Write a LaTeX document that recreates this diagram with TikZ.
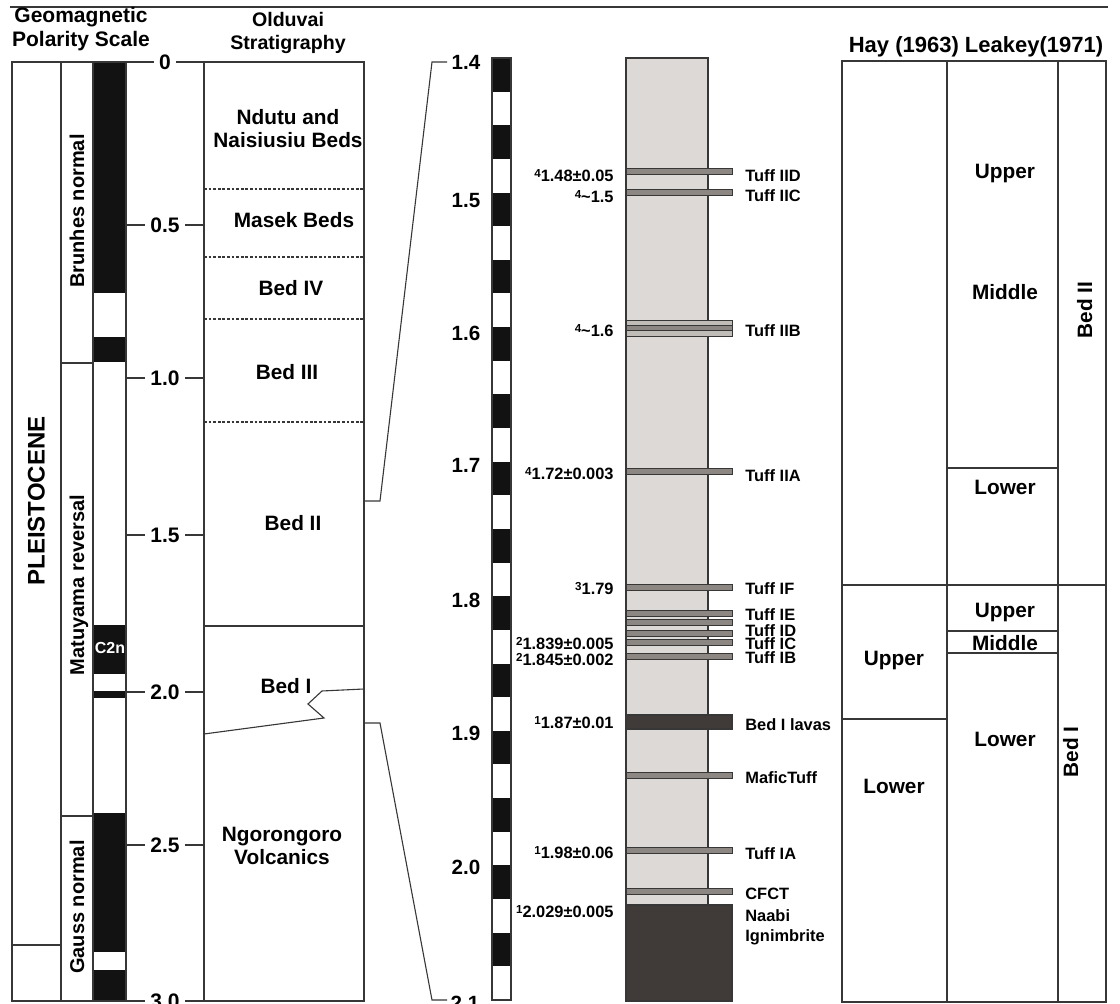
\documentclass[tikz,border=0pt]{standalone}
\usepackage{fontspec}
\setmainfont{Liberation Sans}
\definecolor{colgray}{RGB}{220,217,214}
\definecolor{tuffgray}{RGB}{140,135,131}
\definecolor{tufflight}{RGB}{192,188,184}
\definecolor{darkrock}{RGB}{64,59,56}
\definecolor{edge}{RGB}{55,55,55}
\definecolor{polblack}{RGB}{18,18,18}
\newcommand{\supn}[1]{\raisebox{0.55ex}{\fontsize{5.8}{6}\selectfont #1}}
\begin{document}
\begin{tikzpicture}[x=0.5pt,y=-0.5pt,
  ln/.style={draw=edge, line width=0.55pt},
  hdr/.style={font=\bfseries\fontsize{10.5}{12.2}\selectfont, inner sep=0pt, align=center},
  hdrone/.style={font=\bfseries\fontsize{11}{12}\selectfont, inner sep=0pt, text height=7.9pt, text depth=0pt},
  lbl/.style={font=\bfseries\fontsize{10.4}{11.5}\selectfont, inner sep=0pt, text height=7.5pt, text depth=0pt},
  mlbl/.style={font=\bfseries\fontsize{10.4}{11.5}\selectfont, inner sep=0pt, align=center},
  rlbl/.style={font=\bfseries\fontsize{10}{11}\selectfont, inner sep=0pt, text height=7.2pt, text depth=0pt, rotate=90},
  tick/.style={font=\bfseries\fontsize{10.5}{12}\selectfont, fill=white, inner xsep=2.5pt, inner ysep=1pt, text height=7.6pt, text depth=0pt},
  mtick/.style={font=\bfseries\fontsize{10.3}{12}\selectfont, inner sep=0pt, text height=7.4pt, text depth=0pt},
  small/.style={font=\bfseries\fontsize{8.2}{10}\selectfont, inner sep=0pt, text height=5.9pt, text depth=0pt},
  tlab/.style={small, anchor=west},
  dlab/.style={small, anchor=east},
  tuff/.style={draw=edge, fill=tuffgray, line width=0.4pt},
  tuffl/.style={draw=edge, fill=tufflight, line width=0.4pt}
]
\clip (0,0) rectangle (1120,1004);
\fill[white] (0,0) rectangle (1120,1004);

% top rule
\draw[ln] (10,7) -- (1108,7);

% headers
\node[hdr] (hgeo) at (81,29) {Geomagnetic\\Polarity Scale};
\node[hdr, font=\bfseries\fontsize{9.8}{11.8}\selectfont] (hold) at (288,33) {Olduvai\\Stratigraphy};
\node[hdrone] (hhay) at (976,45) {Hay (1963) Leakey(1971)};

% ---------- geomagnetic polarity columns ----------
\draw[ln] (12,62) rectangle (61,1001);
\draw[ln] (12,945) -- (61,945);
\draw[ln] (61,62) rectangle (93,1001);
\draw[ln] (61,363) -- (93,363);
\draw[ln] (61,816) -- (93,816);
\foreach \a/\b in {62/293,337/362,625/674,691/698,813/952,970/1001}
  \fill[polblack] (93,\a) rectangle (126,\b);
\draw[ln] (93,62) rectangle (126,1001);
\node[font=\bfseries\fontsize{8}{9}\selectfont, text=white, inner sep=0pt, text height=5.7pt, text depth=0pt] (c2n) at (110,648) {C2n};

\node[rlbl, font=\bfseries\fontsize{12}{13}\selectfont, text height=8.6pt] (pleis) at (36,501) {PLEISTOCENE};
\node[rlbl] (brun) at (77,211) {Brunhes normal};
\node[rlbl] (matu) at (77,585) {Matuyama reversal};
\node[rlbl] (gaus) at (77,907) {Gauss normal};

% age ticks (left)
\foreach \v/\y [count=\i] in {0/62,0.5/225,1.0/378,1.5/535,2.0/692,2.5/845,3.0/1001}{
  \draw[ln] (126,\y) -- (204,\y);
  \node[tick] (lt\i) at (165,\y) {\v};
}

% ---------- Olduvai stratigraphy ----------
\draw[ln] (204,62) rectangle (364,1001);
\foreach \y in {189,257,319,422}
  \draw[ln, dash pattern=on 1.4pt off 0.9pt] (204,\y) -- (364,\y);
\draw[ln] (204,626) -- (364,626);
\draw[ln] (204,734) -- (324,718) -- (308,704) -- (322,691) -- (364,689);

\node[mlbl] (ndutu) at (288,129) {Ndutu and\\Naisiusiu Beds};
\node[lbl] (masek) at (294,220) {Masek Beds};
\node[lbl] (bed4) at (291,288) {Bed IV};
\node[lbl] (bed3) at (287,372) {Bed III};
\node[lbl] (bed2) at (293,523) {Bed II};
\node[lbl] (bed1) at (286,686) {Bed I};
\node[mlbl] (ngoro) at (282,846) {Ngorongoro\\Volcanics};

% zoom connectors
\coordinate (za1) at (364,501);
\coordinate (za2) at (380,501);
\coordinate (za3) at (432,62);
\coordinate (za4) at (447,62);
\coordinate (zb1) at (364,723);
\coordinate (zb2) at (380,723);
\coordinate (zb3) at (432,1000);
\coordinate (zb4) at (447,1000);
\draw[ln] (za1) -- (za2) -- (za3) -- (za4);
\draw[ln] (zb1) -- (zb2) -- (zb3) -- (zb4);

% ---------- detailed scale ----------
\foreach \i in {0,...,13}
  \fill[polblack] (492,{58+2*\i*33.64}) rectangle (511,{58+(2*\i+1)*33.64});
\draw[ln] (492,58) rectangle (511,1000);

\foreach \v/\y/\x [count=\i] in {1.4/62/466,1.5/200/466,1.6/333/466,1.7/465/466,1.8/600/466,1.9/733/466,2.0/867/466,2.1/1003/465}
  \node[mtick] (mt\i) at (\x,\y) {\v};

% ---------- section column ----------
\draw[ln, fill=colgray] (626,58) rectangle (708,905);
\draw[ln, fill=darkrock] (626,905) rectangle (732,1001);
\foreach \y in {171,192,471,587,613,622,633,642,656,775,850,891}
  \draw[tuff] (626,{\y-3}) rectangle (732,{\y+3});
\draw[tuffl] (626,320) rectangle (732,325.5);
\draw[tuff] (626,325.5) rectangle (732,330.5);
\draw[tuffl] (626,330.5) rectangle (732,336);
\draw[ln, fill=darkrock] (626,715) rectangle (732,729);

% tuff names
\node[tlab] (tIID) at (745,176) {Tuff IID};
\node[tlab] (tIIC) at (745,196) {Tuff IIC};
\node[tlab] (tIIB) at (745,331) {Tuff IIB};
\node[tlab] (tIIA) at (745,476) {Tuff IIA};
\node[tlab] (tIF) at (745,589) {Tuff IF};
\node[tlab] (tIE) at (745,615) {Tuff IE};
\node[tlab] (tID) at (745,631) {Tuff ID};
\node[tlab] (tIC) at (745,644) {Tuff IC};
\node[tlab] (tIB) at (745,658) {Tuff IB};
\node[tlab] (lavas) at (745,725) {Bed I lavas};
\node[tlab] (mafic) at (745,778) {MaficTuff};
\node[tlab] (tIA) at (745,854) {Tuff IA};
\node[tlab] (cfct) at (745,894) {CFCT};
\node[tlab] (naabi) at (745,916) {Naabi};
\node[tlab] (ignim) at (745,936) {Ignimbrite};

% dates
\node[dlab] (d1) at (614,176) {\supn{4}1.48±0.05};
\node[dlab] (d2) at (614,197) {\supn{4}\textasciitilde1.5};
\node[dlab] (d3) at (614,331) {\supn{4}\textasciitilde1.6};
\node[dlab] (d4) at (614,474) {\supn{4}1.72±0.003};
\node[dlab] (d5) at (614,589) {\supn{3}1.79};
\node[dlab] (d6) at (614,644) {\supn{2}1.839±0.005};
\node[dlab] (d7) at (614,660) {\supn{2}1.845±0.002};
\node[dlab] (d8) at (614,723) {\supn{1}1.87±0.01};
\node[dlab] (d9) at (614,853) {\supn{1}1.98±0.06};
\node[dlab] (d10) at (614,912) {\supn{1}2.029±0.005};

% ---------- Hay / Leakey table ----------
\draw[ln] (842,61) rectangle (1106,1002);
\draw[ln] (947,61) -- (947,1002);
\draw[ln] (1058,61) -- (1058,1002);
\draw[ln] (947,468) -- (1058,468);
\draw[ln] (842,585) -- (1106,585);
\draw[ln] (947,631) -- (1058,631);
\draw[ln] (947,653) -- (1058,653);
\draw[ln] (842,719) -- (947,719);

\node[lbl] (lkU2) at (1005,171) {Upper};
\node[lbl] (lkM2) at (1005,292) {Middle};
\node[lbl] (lkL2) at (1005,487) {Lower};
\node[lbl] (lkU1) at (1005,610) {Upper};
\node[lbl] (lkM1) at (1005,643) {Middle};
\node[lbl] (lkL1) at (1005,739) {Lower};
\node[lbl] (hyU) at (894,658) {Upper};
\node[lbl] (hyL) at (894,786) {Lower};
\node[rlbl, font=\bfseries\fontsize{10.4}{11.5}\selectfont] (rb2) at (1085,310) {Bed II};
\node[rlbl, font=\bfseries\fontsize{10.4}{11.5}\selectfont] (rb1) at (1071,752) {Bed I};
\end{tikzpicture}
\end{document}
